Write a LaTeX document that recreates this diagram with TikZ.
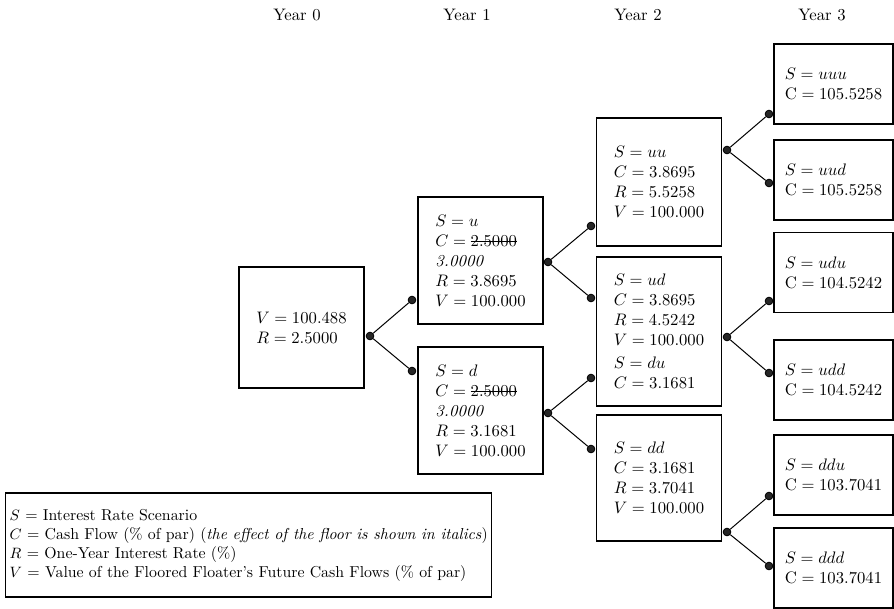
\documentclass[tikz,border=0pt]{standalone}
\newsavebox\strkbox
\newcommand{\struck}[1]{\sbox\strkbox{#1}\rlap{\rule[0.6ex]{\wd\strkbox}{0.5pt}}\usebox\strkbox}

\begin{document}
\begin{tikzpicture}[
  x=0.6pt, y=-0.6pt,
  box/.style={draw, line width=0.7pt, minimum width=75pt, align=left, inner sep=0pt},
  endbox/.style={box, minimum width=71.4pt, minimum height=48pt},
  dot/.style={circle, draw=black, fill=black!85, line width=0.5pt, inner sep=0pt, minimum size=4.6pt},
  link/.style={line width=0.6pt}
]
\useasboundingbox (0,0) rectangle (894,608);

\node (y0) at (297,15) {Year 0};
\node (y1) at (467,15) {Year 1};
\node (y2) at (638,15) {Year 2};
\node (y3) at (822,15) {Year 3};

\node[box, minimum height=72.6pt] (b0) at (301.5,327.5) {$V = 100.488$\\ $R = 2.5000$};

\node[box, minimum height=76.2pt] (bu) at (480.5,260.5) {$S = u$\\ $C = {}$\struck{2.5000}\\ \textit{3.0000}\\ $R = 3.8695$\\ $V = 100.000$};
\node[box, minimum height=76.2pt] (bd) at (480.5,410.5) {$S = d$\\ $C = {}$\struck{2.5000}\\ \textit{3.0000}\\ $R = 3.1681$\\ $V = 100.000$};

\node[box, minimum height=76.8pt] (buu) at (659,182) {$S = uu$\\ $C = 3.8695$\\ $R = 5.5258$\\ $V = 100.000$};
\node[box, minimum height=89.4pt] (bud) at (659,331.5) {$S = ud$\\ $C = 3.8695$\\ $R = 4.5242$\\ $V = 100.000$\\[2pt] $S = du$\\ $C = 3.1681$};
\node[box, minimum height=75.6pt] (bdd) at (659,478) {$S = dd$\\ $C = 3.1681$\\ $R = 3.7041$\\ $V = 100.000$};

\node[endbox] (buuu) at (833.5,84) {$S = uuu$\\ C${} = 105.5258$};
\node[endbox] (buud) at (833.5,180) {$S = uud$\\ C${} = 105.5258$};
\node[endbox] (budu) at (833.5,272.5) {$S = udu$\\ C${} = 104.5242$};
\node[endbox] (budd) at (833.5,380) {$S = udd$\\ C${} = 104.5242$};
\node[endbox] (bddu) at (833.5,475) {$S = ddu$\\ C${} = 103.7041$};
\node[endbox] (bddd) at (833.5,568) {$S = ddd$\\ C${} = 103.7041$};

\node[dot] (r0) at (370,336) {};
\node[dot] (lu) at (412,300) {};
\node[dot] (ld) at (412,371) {};
\node[dot] (ru) at (548,262) {};
\node[dot] (rd) at (548,413) {};
\node[dot] (luu) at (591,226) {};
\node[dot] (lud) at (591,298) {};
\node[dot] (ldu) at (591,378) {};
\node[dot] (ldd) at (591,449) {};
\node[dot] (ruu) at (727,150) {};
\node[dot] (rud) at (727,337) {};
\node[dot] (rdd) at (727,532) {};
\node[dot] (luuu) at (769,114) {};
\node[dot] (luud) at (769,183) {};
\node[dot] (ludu) at (769,301) {};
\node[dot] (ludd) at (769,373) {};
\node[dot] (lddu) at (769,496) {};
\node[dot] (lddd) at (769,566) {};

\draw[link] (r0)--(lu); \draw[link] (r0)--(ld);
\draw[link] (ru)--(luu); \draw[link] (ru)--(lud);
\draw[link] (rd)--(ldu); \draw[link] (rd)--(ldd);
\draw[link] (ruu)--(luuu); \draw[link] (ruu)--(luud);
\draw[link] (rud)--(ludu); \draw[link] (rud)--(ludd);
\draw[link] (rdd)--(lddu); \draw[link] (rdd)--(lddd);

\node[draw, line width=0.7pt, anchor=west, align=left, inner xsep=2.5pt, minimum height=62.4pt,
  font=\fontsize{9.5}{11.4}\selectfont] (key) at (5,545)
  {$S$ = Interest Rate Scenario\\
   $C$ = Cash Flow (\% of par) (\textit{the effect of the floor is shown in italics})\\
   $R$ = One-Year Interest Rate (\%)\\
   $V$ = Value of the Floored Floater's Future Cash Flows (\% of par)};
\end{tikzpicture}
\end{document}
